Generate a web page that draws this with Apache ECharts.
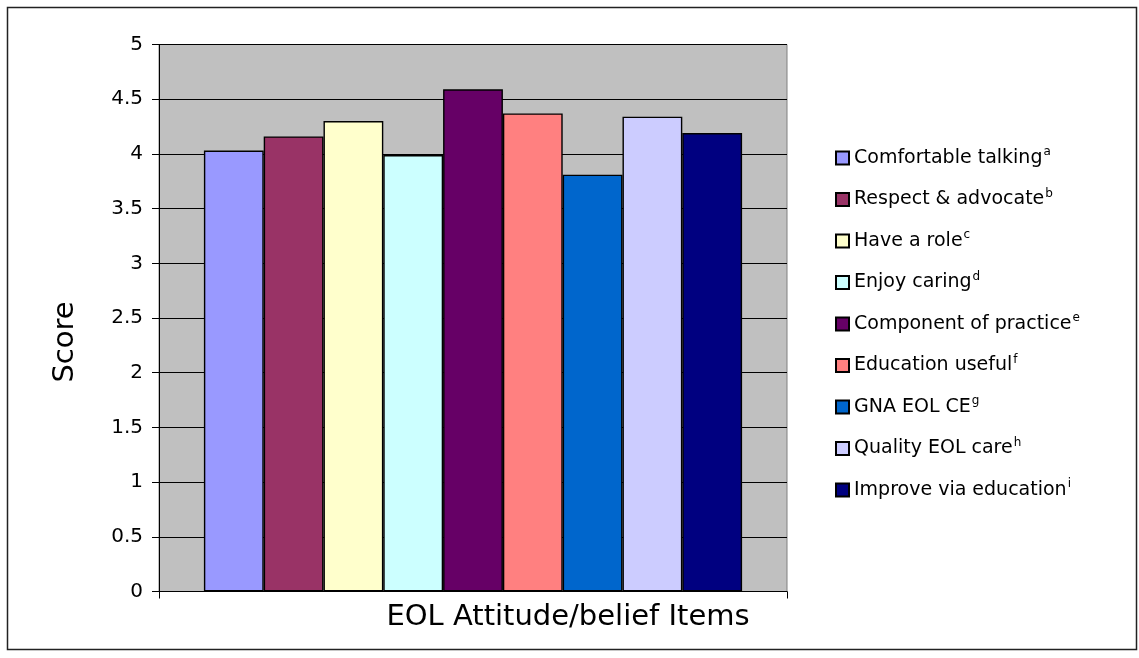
<!DOCTYPE html>
<html>
<head>
<meta charset="utf-8">
<script src="https://cdn.jsdelivr.net/npm/echarts@6/dist/echarts.min.js"></script>
<style>
  html, body { margin: 0; padding: 0; background: #fff; }
  #chart { width: 1139px; height: 658px; }
</style>
</head>
<body>
<div id="chart"></div>
<script>
// EOL attitude/belief items and their mean scores
const items = [
  'Comfortable talking',
  'Respect & advocate',
  'Have a role',
  'Enjoy caring',
  'Component of practice',
  'Education useful',
  'GNA EOL CE',
  'Quality EOL care',
  'Improve via education'
];
const footnotes = ['a', 'b', 'c', 'd', 'e', 'f', 'g', 'h', 'i'];
const scores = [4.03, 4.16, 4.30, 3.99, 4.59, 4.37, 3.81, 4.34, 4.19];
const yTicks = ['0', '0.5', '1', '1.5', '2', '2.5', '3', '3.5', '4', '4.5', '5'];
const palette = ['#9999FF', '#993366', '#FFFFCC', '#CCFFFF', '#660066',
                 '#FF8080', '#0066CC', '#CCCCFF', '#000080'];

const FONT = 'DejaVu Sans, Arial, sans-serif';
const chart = echarts.init(document.getElementById('chart'));

const series = items.map((name, i) => ({
  name: name,
  type: 'bar',
  data: [scores[i]],
  barGap: '0%',
  barCategoryGap: '14.3%',
  itemStyle: { color: palette[i], borderColor: '#000', borderWidth: 1.4 }
}));

chart.setOption({
  animation: false,
  backgroundColor: '#fff',
  grid: {
    left: 159, right: 352, top: 44.5, bottom: 66.5,
    show: true, backgroundColor: '#C0C0C0', borderColor: '#808080', borderWidth: 1
  },
  xAxis: {
    type: 'category',
    data: [''],
    axisLine: { lineStyle: { color: '#000', width: 1 } },
    axisTick: { show: true, length: 7, lineStyle: { color: '#000' } },
    axisLabel: { show: false },
    splitLine: { show: false }
  },
  yAxis: {
    type: 'value',
    min: 0, max: 5, interval: 0.5,
    axisLine: { show: true, lineStyle: { color: '#000', width: 1 } },
    axisTick: { show: true, length: 7, lineStyle: { color: '#000' } },
    axisLabel: {
      margin: 16, color: '#000', fontFamily: FONT, fontSize: 20,
      formatter: (v) => yTicks[Math.round(v * 2)]
    },
    splitLine: { show: true, lineStyle: { color: '#000', width: 1 } }
  },
  legend: {
    orient: 'vertical',
    left: 830, top: 141,
    itemWidth: 13, itemHeight: 13,
    itemGap: 19.5,
    icon: 'rect',
    data: items,
    formatter: (name) => {
      const k = items.indexOf(name);
      return '{n|' + name + '}{s|' + footnotes[k] + '}';
    },
    textStyle: {
      color: '#000',
      fontFamily: FONT,
      rich: {
        n: { fontSize: 19, lineHeight: 24, fontFamily: FONT, color: '#000' },
        s: { fontSize: 12, lineHeight: 24, fontFamily: FONT, color: '#000', verticalAlign: 'top', padding: [0, 0, 10, 1] }
      }
    }
  },
  graphic: [
    {
      type: 'rect', silent: true, z: -1,
      shape: { x: 7.5, y: 7.5, width: 1129, height: 642 },
      style: { fill: 'none', stroke: '#222', lineWidth: 1.5 }
    },
    {
      type: 'text', silent: true,
      x: 65, y: 342, rotation: Math.PI / 2,
      style: { text: 'Score', fontFamily: FONT, fontSize: 29, fill: '#000', align: 'center', verticalAlign: 'middle' }
    },
    {
      type: 'text', silent: true,
      x: 568, y: 617,
      style: { text: 'EOL Attitude/belief Items', fontFamily: FONT, fontSize: 29, fill: '#000', align: 'center', verticalAlign: 'middle' }
    }
  ],
  series: series
});
</script>
</body>
</html>
